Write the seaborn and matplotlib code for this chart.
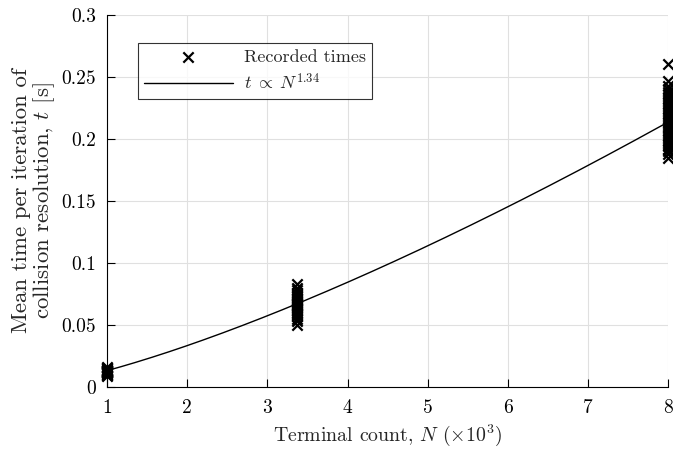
import numpy as np
import pandas as pd
import matplotlib
matplotlib.use('Agg')
import matplotlib.pyplot as plt
import seaborn as sns

sns.set_style('white')
plt.rcParams['font.family'] = 'serif'
plt.rcParams['font.serif'] = ['cmr10', 'DejaVu Serif']
plt.rcParams['mathtext.fontset'] = 'cm'
plt.rcParams['axes.formatter.use_mathtext'] = True

# recorded times (s) per terminal count (x10^3)
times_1k = [0.009, 0.010, 0.010, 0.011, 0.011, 0.011, 0.012, 0.012, 0.012, 0.012,
            0.013, 0.013, 0.013, 0.013, 0.014, 0.014, 0.014, 0.015, 0.015, 0.016]
times_3k = [0.050, 0.053, 0.055, 0.057, 0.058, 0.059, 0.060, 0.061, 0.062, 0.063,
            0.064, 0.065, 0.066, 0.067, 0.068, 0.069, 0.070, 0.071, 0.072, 0.073,
            0.074, 0.075, 0.076, 0.078, 0.080, 0.083]
times_8k = [0.185, 0.188, 0.190, 0.192, 0.194, 0.196, 0.198, 0.200, 0.202, 0.204,
            0.206, 0.208, 0.210, 0.212, 0.214, 0.216, 0.218, 0.220, 0.222, 0.224,
            0.226, 0.228, 0.230, 0.232, 0.234, 0.236, 0.238, 0.240, 0.243, 0.247, 0.260]
counts = [1, 3.375, 8]

# power law fit t = coef * N^expo
fit_coef = 0.01317
fit_expo = 1.34

df = pd.DataFrame({
    'N': [counts[0]] * len(times_1k) + [counts[1]] * len(times_3k) + [counts[2]] * len(times_8k),
    't': times_1k + times_3k + times_8k,
})
n_fit = np.linspace(1, 8, 200)
fit_df = pd.DataFrame({'N': n_fit, 't': fit_coef * n_fit ** fit_expo})

fig = plt.figure(figsize=(6.73, 4.51), dpi=100)
ax = fig.add_axes([0.159, 0.142, 0.834, 0.825])

sns.scatterplot(data=df, x='N', y='t', marker='x', color='black', s=55,
                linewidth=1.6, ax=ax, label='Recorded times', clip_on=False, zorder=3)
sns.lineplot(data=fit_df, x='N', y='t', color='black', linewidth=1.0, ax=ax,
             label=r'$t \;\propto\; N^{1.34}$', zorder=2)

ax.set_xlim(1, 8)
ax.set_ylim(0, 0.3)
ax.set_xticks([1, 2, 3, 4, 5, 6, 7, 8])
ax.set_xticklabels(['1', '2', '3', '4', '5', '6', '7', '8'])
ax.set_yticks([0, 0.05, 0.1, 0.15, 0.2, 0.25, 0.3])
ax.set_yticklabels(['0', '0.05', '0.1', '0.15', '0.2', '0.25', '0.3'])
ax.grid(True, color='#e0e0e0', linewidth=0.8)
ax.set_axisbelow(True)
for s in ['top', 'right']:
    ax.spines[s].set_visible(False)
for s in ['left', 'bottom']:
    ax.spines[s].set_color('black')
    ax.spines[s].set_linewidth(0.8)
ax.tick_params(direction='in', length=6, width=0.8, labelsize=14, colors='black',
               left=True, bottom=True)
ax.tick_params(axis='x', pad=9)
ax.tick_params(axis='y', pad=8)

ax.set_xlabel(r'Terminal count, $N$ ($\times 10^3$)', fontsize=14.3, labelpad=4)
ax.set_ylabel('Mean time per iteration of\n' + r'collision resolution, $t$ [s]',
              fontsize=16.5, labelpad=3, linespacing=1.0)

leg = ax.legend(loc='upper left', bbox_to_anchor=(0.055, 0.925), borderaxespad=0,
                fontsize=13, handlelength=4.9, handletextpad=0.6, frameon=True,
                fancybox=False, borderpad=0.35, labelspacing=0.4, markerfirst=True)
leg.get_frame().set_edgecolor('black')
leg.get_frame().set_linewidth(0.8)

fig.savefig('out.png', dpi=100)
